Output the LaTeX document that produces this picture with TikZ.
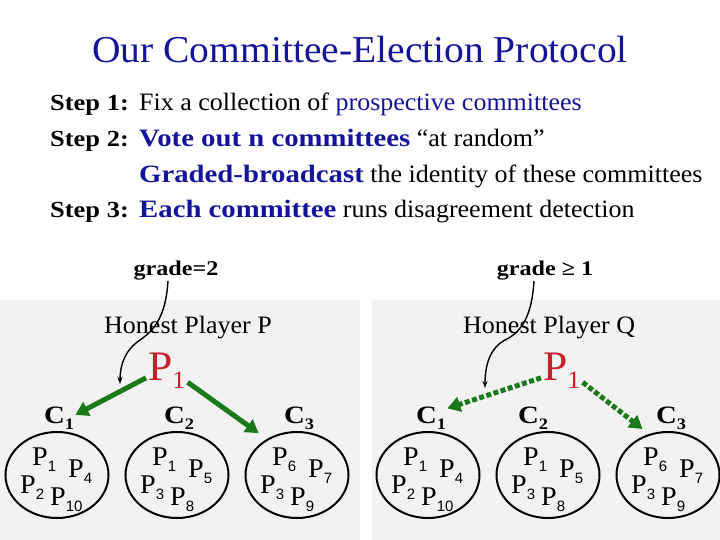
\documentclass[tikz,border=0pt]{standalone}
\usepackage{fontspec}
\setmainfont[FakeStretch=1.04, BoldFeatures={FakeStretch=1.15}]{Liberation Serif}
\newfontfamily\subfont{Liberation Sans}
\usetikzlibrary{shapes.geometric, arrows.meta}
\definecolor{tblue}{HTML}{14149A}
\definecolor{vgreen}{HTML}{1A7A1A}
\definecolor{pred}{HTML}{C8202A}
\definecolor{panelgray}{HTML}{F2F2F2}
\newcommand{\memb}[1]{P\raisebox{-6pt}{\subfont\fontsize{15}{15}\selectfont #1}}
\newcommand{\comm}[1]{C\raisebox{-6pt}{\fontsize{16}{16}\selectfont #1}}
\newcommand{\lead}{P\raisebox{-8pt}{\fontsize{25}{25}\selectfont 1}}
\tikzset{
  title/.style={font=\fontsize{38}{40}\selectfont, text=tblue, anchor=base, inner sep=0pt},
  steplbl/.style={font=\bfseries\fontsize{23}{26}\selectfont, anchor=base west, inner sep=0pt},
  steptxt/.style={font=\fontsize{25}{28}\selectfont, anchor=base west, inner sep=0pt},
  gradelbl/.style={font=\bfseries\fontsize{21}{24}\selectfont, anchor=base, inner sep=1pt},
  playerlbl/.style={font=\fontsize{25}{28}\selectfont, anchor=base west, inner sep=0pt},
  leader/.style={font=\fontsize{42}{44}\selectfont, text=pred, anchor=base west, inner sep=2pt},
  comlbl/.style={font=\bfseries\fontsize{25}{26}\selectfont, anchor=base west, inner sep=1pt},
  committee/.style={ellipse, draw, line width=2pt, minimum width=103pt, minimum height=86pt, inner sep=0pt},
  member/.style={font=\fontsize{27}{28}\selectfont, anchor=base west, inner sep=0pt},
  vote/.style={-{Triangle[length=13pt, width=15pt]}, line width=5pt, draw=vgreen},
  votedot/.style={vote, dash pattern=on 5pt off 2.5pt},
  pointer/.style={-{Stealth[length=7pt, width=5pt]}, line width=1.4pt},
}
\begin{document}
\begin{tikzpicture}[x=1pt, y=-1pt]
  \useasboundingbox (0,0) rectangle (720,540);
  \fill[panelgray] (0,300) rectangle (360,540);
  \fill[panelgray] (372,300) rectangle (720,540);

  \node[title] (title) at (360,63) {Our Committee-Election Protocol};
  \foreach \i/\y in {1/111, 2/147, 3/218}{
    \node[steplbl] (step\i) at (50,\y) {Step \i:};
  }
  \foreach \i/\y/\txt in {
    1/111/{Fix a collection of \textcolor{tblue}{prospective committees}},
    2/147/{\textcolor{tblue}{\bfseries Vote out n committees} “at random”},
    3/183/{\textcolor{tblue}{\bfseries Graded-broadcast} the identity of these committees},
    4/218/{\textcolor{tblue}{\bfseries Each committee} runs disagreement detection}}{
    \node[steptxt] (line\i) at (139,\y) {\txt};
  }

  \node[gradelbl] (gradeL) at (176,275) {grade=2};
  \node[gradelbl] (gradeR) at (545,275) {grade ≥ 1};
  \node[playerlbl] (playerL) at (104,333) {Honest Player P};
  \node[playerlbl] (playerR) at (463,333) {Honest Player Q};
  \node[leader] (leadL) at (146,380) {\lead};
  \node[leader] (leadR) at (541,380) {\lead};

  \foreach \p/\i/\cx/\lx/\a/\b/\c/\d in {
    L/1/57/43/1/4/2/10, L/2/177/163/1/5/3/8, L/3/297/283/6/7/3/9,
    R/1/428/415/1/4/2/10, R/2/548/517/1/5/3/8, R/3/668/655/6/7/3/9}{
    \node[committee] (com\p\i) at (\cx,475) {};
    \node[comlbl] (lbl\p\i) at (\lx,423) {\comm{\i}};
    \node[member] (m\p\i-a) at (\cx-25,465) {\memb{\a}};
    \node[member] (m\p\i-b) at (\cx+11,477) {\memb{\b}};
    \node[member] (m\p\i-c) at (\cx-37,493) {\memb{\c}};
    \node[member] (m\p\i-d) at (\cx-7,505) {\memb{\d}};
  }

  \draw[vote] (leadL.200) -- (lblL1.10);
  \draw[vote, shorten >=10pt] (leadL.-30) -- (comL3.130);
  \draw[votedot] (leadR.200) -- (lblR1.30);
  \draw[votedot, shorten >=8pt] (leadR.-30) -- (comR3.115);

  \coordinate (hitL) at (120,384);
  \coordinate (hitR) at (485,388);
  \draw[pointer] ([xshift=-8pt]gradeL.south) .. controls (166,315) and (155,330) .. (140,340)
    .. controls (125,350) and (120,365) .. (hitL);
  \draw[pointer] ([xshift=-11pt]gradeR.south) .. controls (532,315) and (522,332) .. (505,340)
    .. controls (490,348) and (485,365) .. (hitR);
\end{tikzpicture}
\end{document}
